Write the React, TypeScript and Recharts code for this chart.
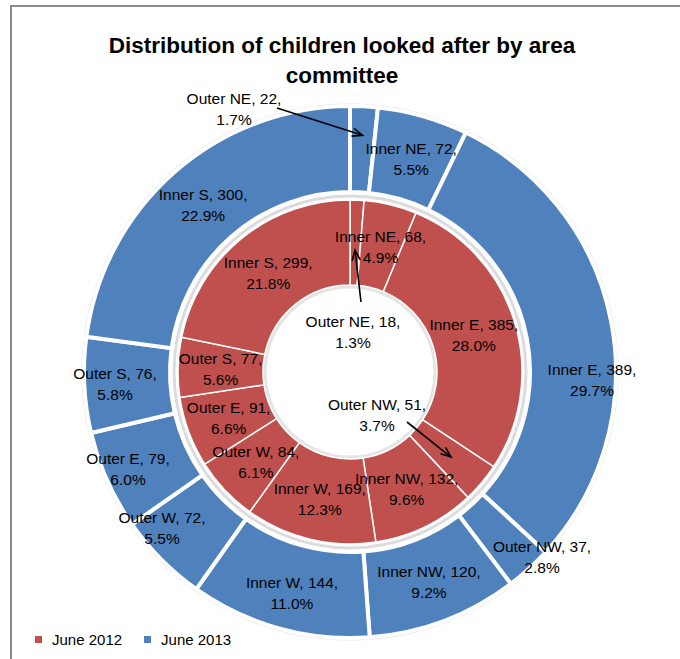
import React from "react";
import { PieChart, Pie } from "recharts";

// ---- data ----
const categories = ["Outer NE", "Inner NE", "Inner E", "Outer NW", "Inner NW", "Inner W", "Outer W", "Outer E", "Outer S", "Inner S"];
const values2012 = [18, 68, 385, 51, 132, 169, 84, 91, 77, 299];
const values2013 = [22, 72, 389, 37, 120, 144, 72, 79, 76, 300];
const seriesNames = ["June 2012", "June 2013"];
const seriesColors = ["#C0504D", "#4F81BD"];
const titleLines = ["Distribution of children looked after by area", "committee"];

// ---- layout ----
const W = 680;
const H = 659;
const CX = 350;
const CY = 372;
const FONT = "'Liberation Sans', Arial, sans-serif";
const RAD = Math.PI / 180;

// label placement tweaks (offset of label block from pie centre) and optional leader arrows
type Place = { dx: number; dy: number; arrowFrom?: [number, number]; arrowR?: number };
const place2012: Record<string, Place> = {
  "Outer NE": { dx: 3, dy: -41, arrowFrom: [11, -70], arrowR: 122 },
  "Outer NW": { dx: 27, dy: 42, arrowFrom: [57, 50], arrowR: 132 },
};
const place2013: Record<string, Place> = {
  "Outer NE": { dx: -116, dy: -264, arrowFrom: [-73, -264], arrowR: 237 },
  "Outer NW": { dx: 192, dy: 184 },
  "Inner E": { dx: 242, dy: 7 },
  "Outer S": { dx: -235, dy: 11 },
  "Outer E": { dx: -222, dy: 96 },
  "Outer W": { dx: -188, dy: 155 },
  "Inner W": { dx: -58, dy: 220 },
};

const data2012 = categories.map((name, i) => ({ name, value: values2012[i] }));
const data2013 = categories.map((name, i) => ({ name, value: values2013[i] }));

const makeLabel = (places: Record<string, Place>) => (props: any) => {
  const { cx, cy, midAngle, innerRadius, outerRadius, percent, value, name, index } = props;
  const r = (innerRadius + outerRadius) / 2;
  const mx = cx + r * Math.cos(-midAngle * RAD);
  const my = cy + r * Math.sin(-midAngle * RAD);
  const p = places[name];
  const x = p ? cx + p.dx : mx;
  const y = p ? cy + p.dy : my;
  let arrow: React.ReactNode = null;
  if (p && p.arrowFrom) {
    const sx = cx + p.arrowFrom[0];
    const sy = cy + p.arrowFrom[1];
    const ar = p.arrowR ?? r;
    const ex = cx + ar * Math.cos(-midAngle * RAD);
    const ey = cy + ar * Math.sin(-midAngle * RAD);
    const ang = Math.atan2(ey - sy, ex - sx);
    const L = 11;
    const a1 = ang + Math.PI - 0.38;
    const a2 = ang + Math.PI + 0.38;
    arrow = (
      <g stroke="#000" strokeWidth={1.6} fill="none">
        <line x1={sx} y1={sy} x2={ex} y2={ey} />
        <polyline points={`${ex + L * Math.cos(a1)},${ey + L * Math.sin(a1)} ${ex},${ey} ${ex + L * Math.cos(a2)},${ey + L * Math.sin(a2)}`} />
      </g>
    );
  }
  return (
    <g key={`lbl-${index}`}>
      {arrow}
      <text x={x} y={y} textAnchor="middle" fontFamily={FONT} fontSize={15.5} fill="#000">
        <tspan x={x} dy={-4}>{`${name}, ${value},`}</tspan>
        <tspan x={x} dy={21}>{`${(percent * 100).toFixed(1)}%`}</tspan>
      </text>
    </g>
  );
};

export default function App() {
  return (
    <div style={{ position: "fixed", left: 0, top: 0, width: W, height: H, background: "#fff", overflow: "hidden" }}>
      {/* frame */}
      <div style={{ position: "absolute", left: 10, top: 5, width: W, height: H, borderTop: "2px solid #8a8a8a", borderLeft: "2px solid #8a8a8a" }} />
      {/* soft shadows around rings */}
      <svg width={W} height={H} style={{ position: "absolute", left: 0, top: 0 }}>
        <circle cx={CX} cy={CY} r={176} fill="none" stroke="#dcdcdc" strokeWidth={3} />
        <circle cx={CX} cy={CY} r={85} fill="none" stroke="#e4e4e4" strokeWidth={3} />
        <circle cx={CX} cy={CY} r={267} fill="none" stroke="#e6e6e6" strokeWidth={3} />
      </svg>
      <div style={{ position: "absolute", left: 0, top: 0 }}>
        <PieChart width={W} height={H} margin={{ top: 0, right: 0, bottom: 0, left: 0 }}>
          <Pie
            data={data2012}
            dataKey="value"
            nameKey="name"
            cx={CX}
            cy={CY}
            innerRadius={87}
            outerRadius={172}
            startAngle={90}
            endAngle={-270}
            fill={seriesColors[0]}
            stroke="#ffffff"
            strokeWidth={1.5}
            label={makeLabel(place2012)}
            labelLine={false}
            isAnimationActive={false}
          />
          <Pie
            data={data2013}
            dataKey="value"
            nameKey="name"
            cx={CX}
            cy={CY}
            innerRadius={180}
            outerRadius={266}
            startAngle={90}
            endAngle={-270}
            fill={seriesColors[1]}
            stroke="#ffffff"
            strokeWidth={4}
            label={makeLabel(place2013)}
            labelLine={false}
            isAnimationActive={false}
          />
        </PieChart>
      </div>
      {/* title */}
      <svg width={W} height={100} style={{ position: "absolute", left: 0, top: 0 }}>
        {titleLines.map((t, i) => (
          <text key={t} x={342} y={53 + i * 30} textAnchor="middle" fontFamily={FONT} fontWeight="bold" fontSize={22.5} fill="#000">
            {t}
          </text>
        ))}
      </svg>
      {/* legend */}
      <div style={{ position: "absolute", left: 35, top: 631, display: "flex", alignItems: "center", fontFamily: FONT, fontSize: 15, color: "#000" }}>
        {seriesNames.map((s, i) => (
          <div key={s} style={{ display: "flex", alignItems: "center", marginRight: 22 }}>
            <div style={{ width: 7, height: 7, background: seriesColors[i], marginRight: 10 }} />
            <span>{s}</span>
          </div>
        ))}
      </div>
    </div>
  );
}
